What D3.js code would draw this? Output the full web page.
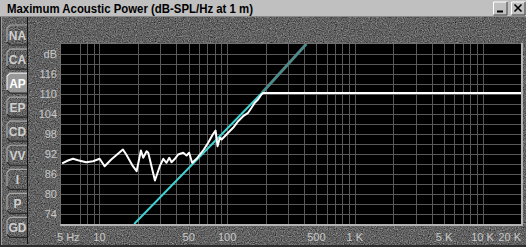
<!DOCTYPE html>
<html>
<head>
<meta charset="utf-8">
<script src="https://d3js.org/d3.v7.min.js"></script>
<style>
  body { margin: 0; background: #5e5e5e; }
  svg { display: block; font-family: "Liberation Sans", Arial, sans-serif; }
</style>
</head>
<body>
<div id="chart"></div>
<script>
// measured response (white trace)
const curveFreq = [5.1, 5.67, 6.21, 6.79, 7.88, 8.9, 10.04, 10.98, 12.37, 15.27, 16.21, 18.28, 19.55, 21.12,
  22.02, 23.4, 24.1, 27.2, 29.7, 31.6, 33.5, 35.2, 36.7, 39.0, 41.3, 45.3, 48.1, 50.4, 53.2, 57.6,
  65.7, 71.0, 77.2, 81.1, 84.1, 87.7, 90.4, 95.9, 101.8, 111.4, 121.9, 133.4, 145.9, 155.2, 164.5,
  174.6, 185.7, 191, 20000];
const curveDb = [89.2, 90.05, 90.56, 90.14, 89.54, 89.84, 90.56, 88.34, 90.35, 93.35, 91.85, 88.34, 86.84, 93.05,
  90.86, 92.84, 92.36, 84.05, 88.34, 90.56, 89.36, 90.86, 89.54, 90.56, 91.85, 92.36, 91.55, 92.36, 89.36, 90.56,
  93.35, 95.36, 97.85, 99.05, 94.34, 96.86, 96.35, 97.34, 98.36, 99.86, 101.84, 103.34, 104.36, 105.86, 107.36,
  108.35, 109.85, 110.3, 110.3];

// 12 dB/oct limit line (cyan, then grey past the knee)
const slopeFreq = [18.7, 187];
const slopeDb = [71, 110.3];
const slopeExtFreq = [187, 417];
const slopeExtDb = [110.3, 125];

const gridFreqs = [7, 8, 9, 10, 20, 30, 40, 50, 60, 70, 80, 90, 100, 200, 300, 400, 500, 600, 700, 800, 900,
  1000, 2000, 3000, 4000, 5000, 6000, 7000, 8000, 9000, 10000];
const gridDb = [74, 77, 80, 83, 86, 89, 92, 95, 98, 101, 104, 107, 110, 113, 116, 119, 122];
const xTickFreqs = [5, 10, 50, 100, 500, 1000, 5000, 10000, 20000];
const xTickLabels = ["5 Hz", "10", "50", "100", "500", "1 K", "5 K", "10 K", "20 K"];
const yTickDb = [74, 80, 86, 92, 98, 104, 110, 116, 122];
const yTickLabels = ["74", "80", "86", "92", "98", "104", "110", "116", "dB"];
const tabNames = ["NA", "CA", "AP", "EP", "CD", "VV", "I", "P", "GD"];
const activeTab = "AP";

const W = 526, H = 247;
const plot = { left: 61, right: 521, top: 44, bottom: 224 };

const x = d3.scaleLog().domain([5, 20000]).range([plot.left, plot.right]);
const y = d3.scaleLinear().domain([71, 125]).range([plot.bottom, plot.top]);

const svg = d3.select("#chart").append("svg").attr("width", W).attr("height", H);
const defs = svg.append("defs");

// granite texture for the window body
const f = defs.append("filter").attr("id", "granite")
  .attr("x", 0).attr("y", 0).attr("width", "100%").attr("height", "100%")
  .attr("color-interpolation-filters", "sRGB");
f.append("feTurbulence").attr("type", "fractalNoise").attr("baseFrequency", 0.85)
  .attr("numOctaves", 3).attr("seed", 4);
f.append("feColorMatrix").attr("type", "matrix")
  .attr("values", "0.3 0.3 0.3 0 -0.07  0.3 0.3 0.3 0 -0.07  0.3 0.3 0.3 0 -0.07  0 0 0 0 1");

defs.append("clipPath").attr("id", "plotClip").append("rect")
  .attr("x", plot.left).attr("y", plot.top)
  .attr("width", plot.right - plot.left).attr("height", plot.bottom - plot.top);

svg.append("rect").attr("width", W).attr("height", H).attr("filter", "url(#granite)");

// title bar
svg.append("rect").attr("width", W).attr("height", 16).attr("fill", "#c0c0c0");
svg.append("line").attr("x1", 0).attr("x2", W).attr("y1", 16.5).attr("y2", 16.5).attr("stroke", "#8a8a8a");
svg.append("text").attr("x", 7).attr("y", 12.5)
  .attr("font-size", 12).attr("font-weight", "bold").attr("fill", "#000")
  .attr("textLength", 246).attr("lengthAdjust", "spacingAndGlyphs")
  .text("Maximum Acoustic Power (dB-SPL/Hz at 1 m)");

// window buttons
[{ x0: 493, glyph: "min" }, { x0: 511, glyph: "close" }].forEach(b => {
  const g = svg.append("g");
  g.append("rect").attr("x", b.x0).attr("y", 1.5).attr("width", 14).attr("height", 13.5).attr("fill", "#c0c0c0");
  g.append("path").attr("d", `M${b.x0 + 0.5},15 V2 H${b.x0 + 14}`).attr("fill", "none").attr("stroke", "#fff");
  g.append("path").attr("d", `M${b.x0 + 0.5},15 H${b.x0 + 14} V2`).attr("fill", "none").attr("stroke", "#404040");
  if (b.glyph === "min") {
    g.append("rect").attr("x", b.x0 + 4).attr("y", 10.5).attr("width", 6).attr("height", 2).attr("fill", "#000");
  } else {
    g.append("path").attr("d", `M${b.x0 + 3.5},4.5 L${b.x0 + 10.5},11.5 M${b.x0 + 10.5},4.5 L${b.x0 + 3.5},11.5`)
      .attr("stroke", "#000").attr("stroke-width", 1.6);
  }
});

// window edges
svg.append("line").attr("x1", 0.5).attr("x2", 0.5).attr("y1", 17).attr("y2", H).attr("stroke", "#2e2e2e").attr("stroke-width", 1);
svg.append("line").attr("x1", 1.5).attr("x2", 1.5).attr("y1", 17).attr("y2", H).attr("stroke", "#9c9c9c").attr("stroke-width", 1);
svg.append("line").attr("x1", 0).attr("x2", W).attr("y1", 246).attr("y2", 246).attr("stroke", "#2e2e2e").attr("stroke-width", 2);
svg.append("line").attr("x1", 27.5).attr("x2", 27.5).attr("y1", 17).attr("y2", 244).attr("stroke", "#111");

// tabs
const tabs = svg.append("g").selectAll("g").data(tabNames).join("g")
  .attr("transform", (d, i) => `translate(0,${35 + i * 24.05})`);
tabs.append("path")
  .attr("d", "M27,-10 H10 L7,-7 V7 L10,10 H27 Z")
  .attr("fill", d => d === activeTab ? "#989898" : "none");
tabs.append("path")
  .attr("d", "M27,-10 H10 L7,-7 V7")
  .attr("fill", "none").attr("stroke", d => d === activeTab ? "#e8e8e8" : "#a8a8a8").attr("stroke-width", 1.2);
tabs.append("path")
  .attr("d", "M7,7 L10,10 H27")
  .attr("fill", "none").attr("stroke", "#2a2a2a").attr("stroke-width", 1.2);
tabs.append("text")
  .attr("x", 17.5).attr("y", 4.5).attr("text-anchor", "middle")
  .attr("font-size", 12).attr("font-weight", "bold")
  .attr("fill", d => d === activeTab ? "#ffffff" : "#cfcfcf")
  .text(d => d);

// plot background + grid
svg.append("rect").attr("x", plot.left).attr("y", plot.top)
  .attr("width", plot.right - plot.left).attr("height", plot.bottom - plot.top).attr("fill", "#000");

const grid = svg.append("g").attr("stroke", "#595959").attr("stroke-width", 1);
grid.selectAll("line.v").data(gridFreqs).join("line").attr("class", "v")
  .attr("x1", d => Math.round(x(d)) + 0.5).attr("x2", d => Math.round(x(d)) + 0.5)
  .attr("y1", plot.top).attr("y2", plot.bottom);
grid.selectAll("line.h").data(gridDb).join("line").attr("class", "h")
  .attr("y1", d => Math.round(y(d)) + 0.5).attr("y2", d => Math.round(y(d)) + 0.5)
  .attr("x1", plot.left).attr("x2", plot.right);

// plot frame bevel
svg.append("path").attr("d", `M${plot.left - 0.5},${plot.bottom} V${plot.top - 0.5} H${plot.right}`)
  .attr("fill", "none").attr("stroke", "#707070");
svg.append("path").attr("d", `M${plot.left - 1},${plot.bottom + 1} H${plot.right + 1} V${plot.top - 1}`)
  .attr("fill", "none").attr("stroke", "#b4b4b4").attr("stroke-width", 2);

// axis labels
svg.append("g").selectAll("text").data(xTickFreqs).join("text")
  .attr("x", (d, i) => i === 0 ? x(d) - 4 : x(d))
  .attr("y", 241)
  .attr("text-anchor", (d, i) => i === 0 ? "start" : (i === xTickFreqs.length - 1 ? "end" : "middle"))
  .attr("font-size", 11).attr("fill", "#c8c8c8")
  .text((d, i) => xTickLabels[i]);

svg.append("g").selectAll("text").data(yTickDb).join("text")
  .attr("x", 57).attr("y", d => y(d) + 4)
  .attr("text-anchor", "end")
  .attr("font-size", 11).attr("fill", "#c8c8c8")
  .text((d, i) => yTickLabels[i]);

// traces
const traces = svg.append("g").attr("clip-path", "url(#plotClip)");
const line = d3.line().x(d => x(d[0])).y(d => y(d[1]));

traces.append("path")
  .attr("d", line(d3.zip(slopeExtFreq, slopeExtDb)))
  .attr("fill", "none").attr("stroke", "#6e7878").attr("stroke-width", 3);
traces.append("path")
  .attr("d", line(d3.zip(slopeExtFreq, slopeExtDb)))
  .attr("fill", "none").attr("stroke", "#2f9a9a").attr("stroke-width", 1.2);

traces.append("path")
  .attr("d", line(d3.zip(slopeFreq, slopeDb)))
  .attr("fill", "none").attr("stroke", "#40d4d4").attr("stroke-width", 2);

traces.append("path")
  .attr("d", line(d3.zip(curveFreq, curveDb)))
  .attr("fill", "none").attr("stroke", "#ffffff").attr("stroke-width", 2)
  .attr("stroke-linejoin", "round");
</script>
</body>
</html>
